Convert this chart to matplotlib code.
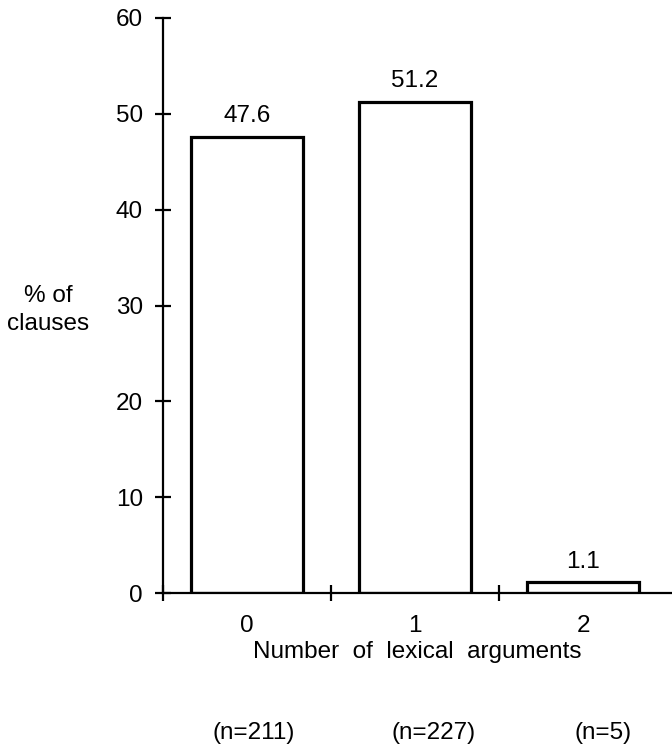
import matplotlib
matplotlib.use("Agg")
import matplotlib.pyplot as plt
import matplotlib.transforms as mtransforms
from matplotlib.ticker import FixedLocator, NullFormatter

plt.rcParams['font.family'] = ['Liberation Sans', 'DejaVu Sans']

categories = ["0", "1", "2"]
percent = [47.6, 51.2, 1.1]
value_labels = ["47.6", "51.2", "1.1"]
n_labels = ["(n=211)", "(n=227)", "(n=5)"]
y_ticks = [0, 10, 20, 30, 40, 50, 60]

FS = 17.5
DPI = 100
fig = plt.figure(figsize=(6.72, 7.44), dpi=DPI)
W, H = 672, 744
left_px, right_px, bottom_px, top_px = 163, 672, 593, 18
ax = fig.add_axes([left_px / W, 1 - bottom_px / H,
                   (right_px - left_px) / W, (bottom_px - top_px) / H])

x = list(range(len(categories)))
ax.bar(x, percent, width=0.67, color="white", edgecolor="black",
       linewidth=2.3, zorder=2)

ax.set_xlim(-0.5, -0.5 + (right_px - left_px) / 168)
ax.set_ylim(0, 60)

for s in ["top", "right"]:
    ax.spines[s].set_visible(False)
for s in ["left", "bottom"]:
    ax.spines[s].set_linewidth(1.6)
    ax.spines[s].set_zorder(3)

ax.set_yticks(y_ticks)
ax.set_yticklabels([str(t) for t in y_ticks], fontsize=FS)
ax.tick_params(axis="y", direction="inout", length=11, width=1.6, pad=9)

ax.xaxis.set_major_locator(FixedLocator([-0.5, 0.5, 1.5]))
ax.xaxis.set_major_formatter(NullFormatter())
ax.xaxis.set_minor_locator(FixedLocator(x))
ax.set_xticklabels(categories, minor=True, fontsize=FS)
ax.tick_params(axis="x", which="major", direction="inout", length=11, width=1.6)
ax.tick_params(axis="x", which="minor", length=0, pad=16)

ax.set_xlabel("Number  of  lexical  arguments", fontsize=FS, labelpad=3)

for xi, v, lab in zip(x, percent, value_labels):
    ax.annotate(lab, (xi, v), xytext=(0, 15), textcoords="offset points",
                ha="center", va="center", fontsize=FS)

n_offsets = [0.04, 0.11, 0.12]
blend = mtransforms.blended_transform_factory(ax.transData, fig.transFigure)
for xi, lab, dx in zip(x, n_labels, n_offsets):
    ax.text(xi + dx, 1 - 733 / H, lab, transform=blend,
            ha="center", va="center", fontsize=FS)

fig.text(48 / W, 1 - 310 / H, "% of\nclauses", ha="center", va="center",
         fontsize=FS, linespacing=1.4)

fig.savefig("out.png", dpi=DPI)
